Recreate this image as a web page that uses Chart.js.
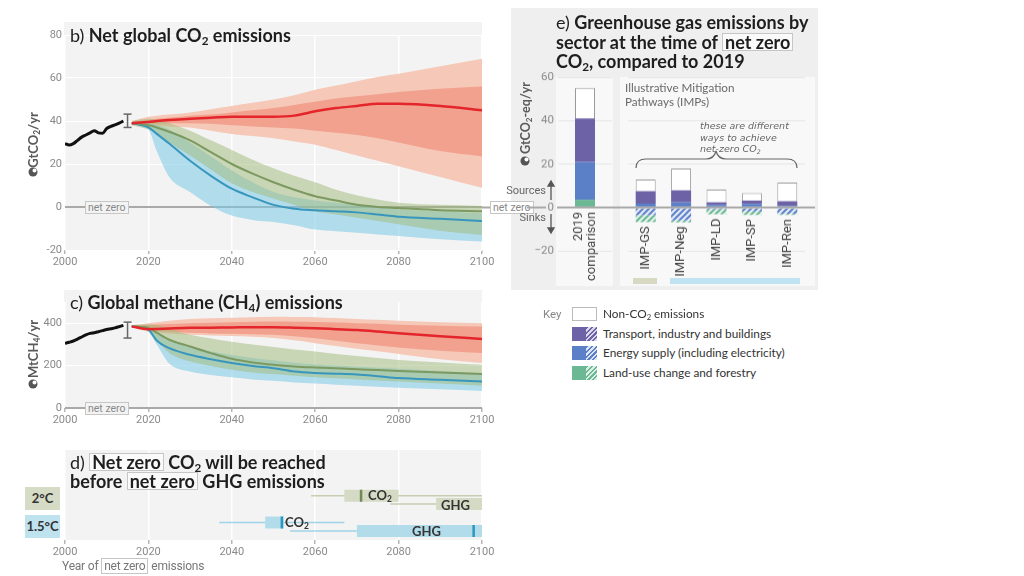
<!DOCTYPE html>
<html>
<head>
<meta charset="utf-8">
<script src="https://cdn.jsdelivr.net/npm/chart.js@4.4.1/dist/chart.umd.min.js"></script>
<style>
  body { margin: 0; background: #fff; }
  #fig { position: relative; width: 1024px; height: 576px; overflow: hidden; font-family: Lato, 'Open Sans', sans-serif; color: #222; }
  .bg { position: absolute; background: #f3f3f3; }
  .t { position: absolute; white-space: nowrap; }
  .title { font-weight: 700; font-size: 18px; line-height: 18px; color: #1e1e1e; }
  .title .n { font-weight: 400; }
  .title .nz { display: inline-block; line-height: 16px; padding: 0 2px; }
  sub { font-size: 65%; vertical-align: -0.25em; line-height: 0; }
  .nz { border: 1px solid #c6c6c6; padding: 0 2px; background: #fafafa; }
  .small { font-family: Roboto, sans-serif; color: #777; }
  .ytitle { position: absolute; white-space: nowrap; transform: translate(-50%, -50%) rotate(-90deg); font-weight: 700; font-size: 13px; color: #5a5a5a; }
  .key { position: absolute; width: 25px; height: 14px; box-sizing: border-box; }
  canvas { position: absolute; }
</style>
</head>
<body>
<div id="fig">
  <!-- panel backgrounds -->
  <div class="bg" style="left:64px;top:22px;width:418px;height:228px"></div>
  <div class="bg" style="left:64px;top:290px;width:418px;height:118px"></div>
  <div class="bg" style="left:64px;top:450px;width:418px;height:90px"></div>
  <div class="bg" style="left:511px;top:8px;width:307px;height:282px;background:#efefef"></div>
  <div class="bg" style="left:556px;top:77px;width:57px;height:209px;background:#f8f8f8"></div>
  <div class="bg" style="left:620px;top:77px;width:195px;height:209px;background:#f8f8f8"></div>
</div>

<script>
// ---- panel b / c : emissions pathways ----
const histYears = [2000, 2001, 2002, 2003, 2004, 2005, 2006, 2007, 2008, 2009, 2010, 2011, 2012, 2013, 2014];
const histCO2 = [29.5, 28.8, 29.5, 31, 32.5, 33.5, 34.5, 35.5, 34.5, 34.3, 36.5, 37.5, 38.2, 39, 40];
const histCH4 = [305, 310, 316, 325, 335, 345, 352, 355, 360, 365, 370, 374, 378, 384, 390];

const errorYear = 2015;
const co2Error = [37, 43.2];
const ch4Error = [330, 405];

const projYears = [2016, 2020, 2022, 2025, 2030, 2035, 2040, 2045, 2050, 2055, 2060, 2065, 2070, 2075, 2080, 2090, 2100];

// current policies (red)
const co2Policy      = [39, 39.5, 40, 40.5, 41, 41.5, 42, 42, 42, 42.5, 44.5, 46, 47, 48, 48, 47, 45];
const co2PolicyInHi  = [39.5, 40.5, 41, 41.5, 42.5, 43, 44, 45, 46, 47.5, 49, 50.5, 51.5, 52.5, 53.5, 55, 56];
const co2PolicyInLo  = [38.5, 38.5, 38.7, 39, 39, 38.7, 38, 37.5, 37, 36.5, 35.5, 34.5, 33.5, 32, 30, 26, 23.5];
const co2PolicyOutHi = [40, 42, 42.5, 43, 44, 45.5, 47, 48.5, 50, 52, 54.5, 56.5, 58.5, 60.5, 62, 65.5, 69];
const co2PolicyOutLo = [38, 38, 37.8, 37.5, 37, 35.5, 34, 33, 32, 30.5, 29, 26.5, 24, 21.5, 19, 14, 9];
// 2°C (green)
const co2Two   = [39, 38, 37, 35, 31, 25.5, 20, 15.5, 11.5, 8, 5, 3, 1, 0, -0.5, -1.5, -2];
const co2TwoHi = [40, 41, 40.5, 39, 35.5, 31, 26.5, 22, 18, 14.5, 11.5, 8, 5.5, 3.5, 2, 1, 0.5];
const co2TwoLo = [38, 36, 34, 30, 24, 17.5, 11, 7, 4, 1, -2, -3.5, -5, -6.5, -8, -11, -13];
// 1.5°C (blue)
const co2Low   = [39, 37, 34, 29.5, 21.5, 14.5, 8.5, 4.5, 1, -0.8, -1.5, -2, -2.5, -3.5, -4.5, -5.5, -6.5];
const co2LowHi = [39.5, 39, 38, 36, 30, 23.5, 17, 11.5, 7, 4.5, 3, 2, 1, 0, -1, -2, -3];
const co2LowLo = [38.5, 36, 26, 14, 7, 0.5, -4, -6, -7, -8.5, -10.5, -11.3, -12, -12.8, -13.5, -15, -16];

const ch4Policy      = [385, 372, 373, 375, 378, 379, 380, 381, 381, 379, 376, 372, 368, 361, 353, 338, 326];
const ch4PolicyInHi  = [388, 392, 394, 396, 400, 402, 405, 407, 408, 407, 406, 403, 400, 397, 393, 388, 384];
const ch4PolicyInLo  = [382, 365, 362, 360, 355, 352, 350, 348, 345, 338, 329, 317, 305, 295, 285, 270, 259];
const ch4PolicyOutHi = [390, 400, 405, 412, 420, 423, 426, 428, 430, 429, 428, 424, 420, 416, 412, 405, 400];
const ch4PolicyOutLo = [380, 360, 355, 350, 345, 342, 340, 336, 330, 319, 306, 293, 280, 268, 255, 230, 212];
const ch4Two   = [385, 378, 355, 322, 290, 259, 232, 215, 204, 196, 191, 187, 183, 179, 175, 167, 160];
const ch4TwoHi = [390, 395, 390, 375, 345, 328, 313, 300, 288, 276, 266, 255, 245, 236, 227, 215, 204];
const ch4TwoLo = [380, 365, 320, 260, 220, 198, 180, 168, 160, 152, 145, 140, 135, 130, 125, 115, 105];
const ch4Low   = [385, 370, 318, 282, 251, 230, 212, 198, 188, 172, 165, 162, 158, 150, 141, 133, 125];
const ch4LowHi = [388, 380, 350, 320, 290, 268, 250, 236, 225, 214, 205, 200, 195, 190, 185, 175, 165];
const ch4LowLo = [380, 360, 300, 210, 172, 156, 145, 135, 128, 120, 115, 110, 105, 100, 95, 88, 80];

const yearTicks = [2000, 2020, 2040, 2060, 2080, 2100];
const co2Ticks = [-20, 0, 20, 40, 60, 80];
const ch4Ticks = [0, 200, 400];

// ---- panel d : year of net zero ----
const nzRows       = ['2°C CO₂', '2°C GHG', '1.5°C CO₂', '1.5°C GHG'];
const nzWhiskerLo  = [2059, 2078, 2037, 2054];
const nzWhiskerHi  = [2100, 2100, 2067, 2100];
const nzBoxLo      = [2067, 2089, 2048, 2070];
const nzBoxHi      = [2080, 2100, 2052.5, 2100];
const nzMedian     = [2071, null, 2052, 2098];

// ---- panel e : sectors at net zero CO2 ----
const sectorLabels = [['2019', 'comparison'], 'IMP-GS', 'IMP-Neg', 'IMP-LD', 'IMP-SP', 'IMP-Ren'];
const landPos   = [3.7, 0, 0, 0, 0, 0];
const energyPos = [17.3, 1.9, 2.5, 1.3, 1.8, 0.8];
const transport = [20, 5.7, 5.5, 1.2, 1.5, 2.2];
const nonCO2    = [14, 5.4, 10, 5.9, 3.4, 8.6];
const energyNeg = [0, -3.4, -5.8, -0.7, -1.7, -2.8];
const landNeg   = [0, -3.2, -0.9, -2.3, -1.6, -0.5];
const sectorTicks = [-20, 0, 20, 40, 60];

// colours
const RED = '#e4252c', GREEN = '#7b9960', BLUE = '#3896bd';
const PURPLE = '#6e62a6', EBLUE = '#5c80c8', LGREEN = '#6cb894';
const TICK_FONT = "Roboto, sans-serif";

const PAD = 20;
const fig = document.getElementById('fig');

function mount(area, lw, bh) {
  const c = document.createElement('canvas');
  const w = area[2] - area[0] + lw + 2 * PAD;
  const h = area[3] - area[1] + bh + 2 * PAD;
  c.width = w; c.height = h;
  c.style.left = (area[0] - lw - PAD) + 'px';
  c.style.top = (area[1] - PAD) + 'px';
  c.style.width = w + 'px';
  c.style.height = h + 'px';
  fig.appendChild(c);
  return c;
}

function pts(xs, ys) { return xs.map((x, i) => ({x: x, y: ys[i]})); }

function line(xs, ys, color, width, order) {
  return {data: pts(xs, ys), borderColor: color, borderWidth: width, pointRadius: 0,
          fill: false, order: order, cubicInterpolationMode: 'monotone'};
}
function band(hi, lo, color, order) {
  return [
    {data: pts(projYears, hi), borderWidth: 0, pointRadius: 0, backgroundColor: color, fill: '+1', order: order, cubicInterpolationMode: 'monotone'},
    {data: pts(projYears, lo), borderWidth: 0, pointRadius: 0, fill: false, order: order, cubicInterpolationMode: 'monotone'}
  ];
}
function errorBar(range) {
  return {data: [{x: errorYear, y: range[0]}, {x: errorYear, y: range[1]}], borderColor: '#666', borderWidth: 1.5,
          pointStyle: 'line', pointRadius: 4, pointBorderColor: '#666', pointBorderWidth: 1.5, order: 0};
}

function timeChart(area, lw, bh, yRange, yTicks, datasets, showY, reverse) {
  const canvas = mount(area, lw, bh);
  return new Chart(canvas, {
    type: 'line',
    data: {datasets: datasets},
    options: {
      responsive: false, animation: false, events: [],
      layout: {padding: PAD},
      plugins: {legend: {display: false}, tooltip: {enabled: false}},
      scales: {
        x: {
          type: 'linear', min: 2000, max: 2100,
          afterBuildTicks: s => { s.ticks = yearTicks.map(v => ({value: v})); },
          afterFit: s => { s.height = bh; },
          grid: {color: '#ffffff', lineWidth: 1.5, tickColor: '#b5b5b5', tickLength: 4},
          border: {display: false},
          ticks: {color: '#8a8a8a', font: {family: TICK_FONT, size: 11}, padding: 2, maxRotation: 0, callback: v => String(v)}
        },
        y: {
          type: 'linear', min: yRange[0], max: yRange[1], display: showY, reverse: !!reverse,
          afterBuildTicks: s => { s.ticks = yTicks.map(v => ({value: v})); },
          afterFit: s => { s.width = lw; },
          grid: {
            drawTicks: false,
            color: c => (c.tick && c.tick.value === 0) ? '#a9a9a9' : '#ffffff',
            lineWidth: c => (c.tick && c.tick.value === 0) ? 2 : 1
          },
          border: {display: false},
          ticks: {color: '#8a8a8a', font: {family: TICK_FONT, size: 11}, padding: 3}
        }
      }
    }
  });
}

// panel b
timeChart([65, 35, 482, 250], 30, 22, [-20, 80], co2Ticks, [
  line(histYears, histCO2, '#111', 3, 0),
  errorBar(co2Error),
  line(projYears, co2Policy, RED, 2.5, 1),
  line(projYears, co2Two, GREEN, 2, 1),
  line(projYears, co2Low, BLUE, 2, 1),
  ...band(co2TwoHi, co2TwoLo, 'rgba(160,185,120,0.5)', 7),
  ...band(co2LowHi, co2LowLo, 'rgba(120,200,230,0.55)', 8),
  ...band(co2PolicyInHi, co2PolicyInLo, '#f1a18d', 9),
  ...band(co2PolicyOutHi, co2PolicyOutLo, '#f5c8b8', 10)
], true);

// panel c
timeChart([65, 302, 482, 408.3], 30, 22, [0, 500], ch4Ticks, [
  line(histYears, histCH4, '#111', 3, 0),
  errorBar(ch4Error),
  line(projYears, ch4Policy, RED, 2.5, 1),
  line(projYears, ch4Two, GREEN, 2, 1),
  line(projYears, ch4Low, BLUE, 2, 1),
  ...band(ch4TwoHi, ch4TwoLo, 'rgba(160,185,120,0.5)', 7),
  ...band(ch4LowHi, ch4LowLo, 'rgba(120,200,230,0.55)', 8),
  ...band(ch4PolicyInHi, ch4PolicyInLo, '#f1a18d', 9),
  ...band(ch4PolicyOutHi, ch4PolicyOutLo, '#f5c8b8', 10)
], true);

// panel d: rows placed on a reversed 0..90 axis
const rowY = [45.7, 54, 72.5, 81];
const rowCol = [
  {w: '#c9ceb0', b: '#d5dac4', m: '#6f8a55'},
  {w: '#c9ceb0', b: '#d5dac4', m: '#6f8a55'},
  {w: '#9fd3e6', b: '#b3dceb', m: '#2b98c0'},
  {w: '#9fd3e6', b: '#b3dceb', m: '#2b98c0'}
];
const nzSets = [];
nzRows.forEach((name, i) => {
  const y = rowY[i], col = rowCol[i];
  nzSets.push({label: name + ' range', data: [{x: nzWhiskerLo[i], y: y}, {x: nzWhiskerHi[i], y: y}],
               borderColor: col.w, borderWidth: 1.5, pointRadius: 0, order: 3});
  nzSets.push({label: name + ' box', data: [{x: nzBoxLo[i], y: y}, {x: nzBoxHi[i], y: y}],
               borderColor: col.b, borderWidth: 12, pointRadius: 0, borderCapStyle: 'butt', order: 2});
  if (nzMedian[i] !== null) {
    nzSets.push({label: name + ' median', data: [{x: nzMedian[i], y: y - 6}, {x: nzMedian[i], y: y + 6}],
                 borderColor: col.m, borderWidth: 2.5, pointRadius: 0, order: 1});
  }
});
timeChart([65, 450, 482, 540], 0, 22, [0, 90], [], nzSets, false, true);

// panel e
function hatch(color, back) {
  const c = document.createElement('canvas');
  c.width = 6; c.height = 6;
  const g = c.getContext('2d');
  g.fillStyle = back; g.fillRect(0, 0, 6, 6);
  g.strokeStyle = color; g.lineWidth = 2;
  g.beginPath();
  g.moveTo(-1, 7); g.lineTo(7, -1);
  g.moveTo(-4, 4); g.lineTo(4, -4);
  g.moveTo(2, 10); g.lineTo(10, 2);
  g.stroke();
  return g.createPattern(c, 'repeat');
}

// category labels hang just below the lowest part of each column
const columnLabels = {
  id: 'columnLabels',
  afterDatasetsDraw(chart) {
    const ctx = chart.ctx, x = chart.scales.x, y = chart.scales.y;
    ctx.save();
    ctx.font = '13px ' + TICK_FONT;
    ctx.fillStyle = '#444';
    ctx.textAlign = 'right';
    ctx.textBaseline = 'middle';
    chart.data.labels.forEach((lab, i) => {
      let low = 0;
      chart.data.datasets.forEach(d => { if (d.data[i] < 0) low += d.data[i]; });
      const px = x.getPixelForTick(i);
      const py = y.getPixelForValue(low) + 4;
      const lines = Array.isArray(lab) ? lab : [lab];
      lines.forEach((t, k) => {
        ctx.save();
        ctx.translate(px + (k - (lines.length - 1) / 2) * 13, py);
        ctx.rotate(-Math.PI / 2);
        ctx.fillText(t, 0, 0);
        ctx.restore();
      });
    });
    ctx.restore();
  }
};

function sectorChart(area, lw, from, to, showTicks) {
  const canvas = mount(area, lw, 0);
  const pick = arr => arr.slice(from, to);
  const ds = (label, arr, bg, extra) => Object.assign(
    {label: label, data: pick(arr), backgroundColor: bg, barThickness: 20, borderWidth: 0, inflateAmount: 0}, extra || {});
  return new Chart(canvas, {
    type: 'bar',
    data: {
      labels: pick(sectorLabels),
      datasets: [
        ds('Land-use change and forestry', landPos, LGREEN),
        ds('Energy supply (including electricity)', energyPos, EBLUE),
        ds('Transport, industry and buildings', transport, PURPLE),
        ds('Non-CO₂ emissions', nonCO2, '#ffffff', {borderColor: '#9a9a9a', borderWidth: 1}),
        ds('Energy supply sinks', energyNeg, hatch(EBLUE, '#e6ecf8')),
        ds('Land-use sinks', landNeg, hatch(LGREEN, '#e3f2ea'))
      ]
    },
    plugins: [columnLabels],
    options: {
      responsive: false, animation: false, events: [],
      layout: {padding: PAD},
      plugins: {legend: {display: false}, tooltip: {enabled: false}},
      scales: {
        x: {
          stacked: true, position: {y: 0},
          grid: {display: false, drawTicks: false}, border: {display: false},
          ticks: {display: false}
        },
        y: {
          stacked: true, min: -35, max: 60,
          afterBuildTicks: s => { s.ticks = sectorTicks.map(v => ({value: v})); },
          afterFit: s => { s.width = lw; },
          grid: {drawTicks: false, color: c => (c.tick && c.tick.value === 0) ? 'rgba(0,0,0,0)' : '#e6e6e6'},
          border: {display: false},
          ticks: {display: showTicks, color: '#8a8a8a', font: {family: TICK_FONT, size: 11.5}, padding: 4,
                  callback: v => v < 0 ? '\u2212' + (-v) : String(v)}
        }
      }
    }
  });
}
sectorChart([558, 77, 612, 283.5], 30, 0, 1, true);
sectorChart([628, 77, 805, 283.5], 0, 1, 6, false);

// ---- text and decorations ----
function txt(html, x, y, cls, css) {
  const d = document.createElement('div');
  d.className = 't ' + (cls || '');
  d.style.left = x + 'px';
  d.style.top = y + 'px';
  if (css) d.style.cssText += css;
  d.innerHTML = html;
  fig.appendChild(d);
  return d;
}
function ytitle(html, cx, cy, css) {
  const d = document.createElement('div');
  d.className = 'ytitle';
  d.style.left = cx + 'px';
  d.style.top = cy + 'px';
  if (css) d.style.cssText += css;
  d.innerHTML = html;
  fig.appendChild(d);
}

txt('<span class="n">b)</span> Net global CO<sub>2</sub> emissions', 70, 26, 'title');
txt('<span class="n">c)</span> Global methane (CH<sub>4</sub>) emissions', 70, 293, 'title');
txt('<span class="n">d)</span> <span class="nz">Net zero</span> CO<sub>2</sub> will be reached<br>before <span class="nz">net zero</span> GHG emissions', 70, 453, 'title', 'line-height:17.5px');
txt('<span class="n">e)</span> Greenhouse gas emissions by<br>sector at the time of <span class="nz">net zero</span><br>CO<sub>2</sub>, compared to 2019', 556, 13, 'title', 'line-height:19.5px');

ytitle('GtCO<sub>2</sub>/yr', 33, 140);
ytitle('MtCH<sub>4</sub>/yr', 33, 349);
ytitle('GtCO<sub>2</sub>-eq/yr', 525, 118, 'font-size:12.5px');

txt('net zero', 85, 201, 'small nz', 'font-size:10.5px;line-height:11px;padding:0 2px;color:#888;background:#f3f3f3');
txt('net zero', 85, 402, 'small nz', 'font-size:10.5px;line-height:11px;padding:0 2px;color:#888;background:#f3f3f3');
txt('net zero', 490, 201, 'small nz', 'font-size:10.5px;line-height:11px;padding:0 2px;color:#888;background:#fff');

txt('2°C', 25, 487, '', 'width:35px;height:23px;line-height:23px;text-align:center;background:#d6dbc6;font-weight:700;font-size:13px;color:#333');
txt('1.5°C', 25, 515, '', 'width:35px;height:23px;line-height:23px;text-align:center;background:#bfe2ef;font-weight:700;font-size:13px;color:#333');

txt('CO<sub>2</sub>', 368, 488, '', 'font-weight:700;font-size:13px;line-height:14px;color:#333');
txt('GHG', 441, 498, '', 'font-weight:700;font-size:13px;line-height:14px;color:#333');
txt('CO<sub>2</sub>', 285, 515, '', 'font-weight:700;font-size:13px;line-height:14px;color:#333');
txt('GHG', 412, 524, '', 'font-weight:700;font-size:13px;line-height:14px;color:#333');

txt('Year of <span class="nz" style="background:#fff">net zero</span> emissions', 62, 559, 'small', 'font-size:12px;line-height:14px;color:#777;letter-spacing:-0.2px');

txt('Illustrative Mitigation<br>Pathways (IMPs)', 625, 80, '', 'font-size:11.7px;line-height:14px;color:#6a6a6a');
txt('these are different<br>ways to achieve<br>net-zero CO<sub>2</sub>', 700, 120, '', "font-style:italic;font-family:'DejaVu Sans',sans-serif;font-size:9.5px;line-height:11.5px;color:#666");

txt('Sources', 506, 184, 'small', 'width:40px;text-align:right;font-size:11px;line-height:13px;color:#666');
txt('Sinks', 506, 211, 'small', 'width:40px;text-align:right;font-size:11px;line-height:13px;color:#666');

// key
txt('Key', 543, 307, 'small', 'font-size:11.5px;line-height:14px;color:#888');
const keyRows = [
  ['Non-CO<sub>2</sub> emissions', '#ffffff', null],
  ['Transport, industry and buildings', PURPLE, '#d9d6ea'],
  ['Energy supply (including electricity)', EBLUE, '#dde5f5'],
  ['Land-use change and forestry', LGREEN, '#dcefe4']
];
keyRows.forEach((r, i) => {
  const y = 307 + i * 19.5;
  const sw = document.createElement('div');
  sw.className = 'key';
  sw.style.left = '572px'; sw.style.top = y + 'px';
  if (r[2]) {
    sw.style.background = 'linear-gradient(90deg,' + r[1] + ' 0 54%, transparent 54%), repeating-linear-gradient(135deg,' + r[1] + ' 0 1.6px,' + r[2] + ' 1.6px 3.4px)';
  } else {
    sw.style.background = '#fff';
    sw.style.border = '1px solid #bbb';
  }
  fig.appendChild(sw);
  txt(r[0], 603, y - 1, '', 'font-size:11.8px;line-height:16px;color:#333');
});

// strips under IMP columns
txt('', 633, 278, '', 'width:24px;height:6px;background:#d7d9c2');
txt('', 670, 278, '', 'width:130px;height:6px;background:#bfe3f0');

// svg overlay: zero line links, brace, arrows, icons
const svgNS = 'http://www.w3.org/2000/svg';
const svg = document.createElementNS(svgNS, 'svg');
svg.setAttribute('width', 1024); svg.setAttribute('height', 576);
svg.style.position = 'absolute'; svg.style.left = '0'; svg.style.top = '0';
svg.innerHTML =
  '<g stroke="#a9a9a9" stroke-width="2" fill="none">' +
  '<line x1="482" y1="207.5" x2="490" y2="207.5"/><line x1="527" y1="207.5" x2="546" y2="207.5"/>' +
  '<line x1="557" y1="207.5" x2="815" y2="207.5"/></g>' +
  '<path d="M636 168 Q636 159 646 159 L706 159 Q714 159 716 151 Q718 159 726 159 L787 159 Q797 159 797 168" stroke="#666" stroke-width="1.2" fill="none"/>' +
  '<g stroke="#555" stroke-width="1.3" fill="#555">' +
  '<line x1="551" y1="200" x2="551" y2="184"/><path d="M548 186 L551 181 L554 186 Z"/>' +
  '<line x1="551" y1="214" x2="551" y2="230"/><path d="M548 228 L551 233 L554 228 Z"/></g>' +
  '<g fill="#555"><circle cx="33" cy="172" r="4.5"/><circle cx="33" cy="384" r="4.5"/><circle cx="525" cy="161" r="4.5"/></g>' +
  '<g fill="#fff"><circle cx="34.5" cy="170.5" r="2"/><circle cx="34.5" cy="382.5" r="2"/><circle cx="526.5" cy="159.5" r="2"/></g>';
fig.appendChild(svg);
</script>
</body>
</html>
